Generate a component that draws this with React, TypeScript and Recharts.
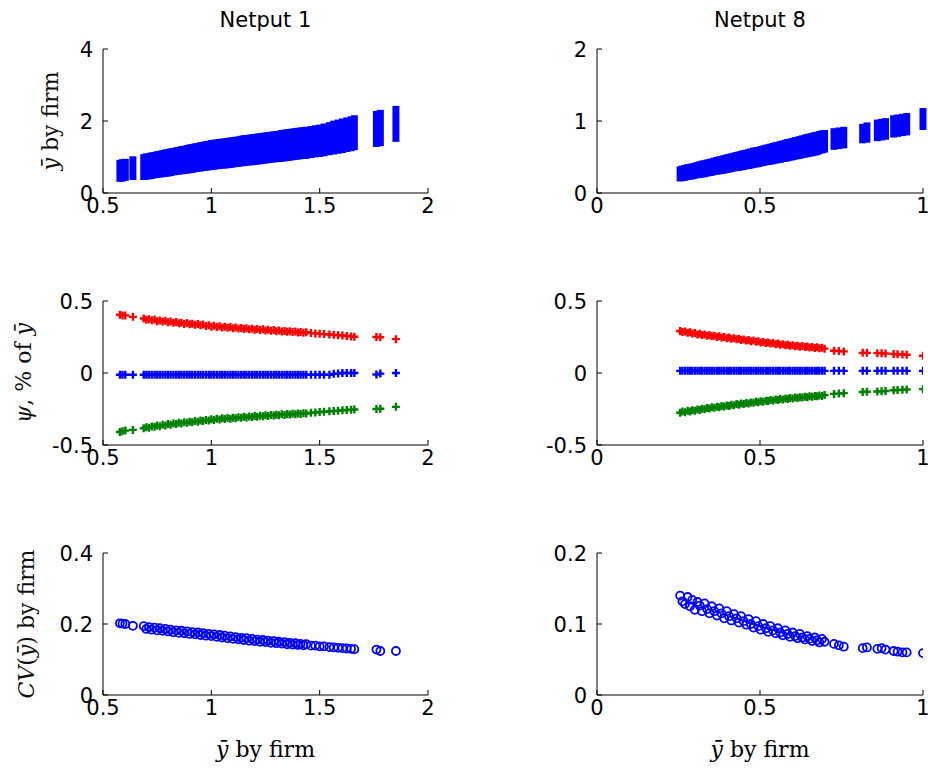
import React from 'react';
import { ScatterChart, Scatter, XAxis, YAxis, ErrorBar, Label } from 'recharts';

// ---- Netput 1 (left column): firm mean, range of draws, psi bounds, CV ----
const n1Firm = [0.578, 0.59, 0.603, 0.638,
  0.688, 0.70, 0.712, 0.725, 0.738, 0.75, 0.762, 0.775, 0.788, 0.80,
  0.812, 0.825, 0.838, 0.85, 0.862, 0.875, 0.888, 0.90, 0.912, 0.925,
  0.938, 0.95, 0.962, 0.975, 0.988, 1.0, 1.012, 1.025, 1.038, 1.05,
  1.062, 1.075, 1.088, 1.10, 1.112, 1.125, 1.138, 1.15, 1.162, 1.175,
  1.188, 1.20, 1.212, 1.225, 1.238, 1.25, 1.262, 1.275, 1.288, 1.30,
  1.312, 1.325, 1.338, 1.35, 1.362, 1.375, 1.388, 1.40, 1.412, 1.425,
  1.438,
  1.46, 1.48, 1.50, 1.52, 1.545, 1.565, 1.585, 1.605, 1.625, 1.645, 1.66,
  1.762, 1.78, 1.852];
const n1Lo = [0.31, 0.32, 0.34, 0.36,
  0.36, 0.37, 0.38, 0.39, 0.41, 0.42, 0.43, 0.44, 0.45, 0.46,
  0.47, 0.49, 0.50, 0.51, 0.52, 0.53, 0.54, 0.55, 0.56, 0.58,
  0.59, 0.60, 0.61, 0.62, 0.63, 0.64, 0.65, 0.66, 0.67, 0.68,
  0.68, 0.69, 0.70, 0.71, 0.72, 0.73, 0.74, 0.75, 0.76, 0.77,
  0.77, 0.78, 0.79, 0.80, 0.81, 0.82, 0.83, 0.84, 0.85, 0.86,
  0.86, 0.87, 0.88, 0.89, 0.90, 0.91, 0.92, 0.93, 0.94, 0.95,
  0.95,
  0.97, 0.99, 1.00, 1.02, 1.05, 1.07, 1.09, 1.11, 1.14, 1.16, 1.19,
  1.28, 1.30, 1.42];
const n1Hi = [0.92, 0.94, 0.95, 1.02,
  1.08, 1.10, 1.11, 1.13, 1.14, 1.16, 1.17, 1.19, 1.21, 1.22,
  1.24, 1.25, 1.27, 1.28, 1.30, 1.31, 1.33, 1.35, 1.36, 1.38,
  1.39, 1.41, 1.42, 1.44, 1.45, 1.47, 1.48, 1.49, 1.50, 1.51,
  1.52, 1.53, 1.54, 1.55, 1.56, 1.57, 1.59, 1.60, 1.61, 1.62,
  1.63, 1.64, 1.65, 1.66, 1.67, 1.68, 1.69, 1.70, 1.71, 1.72,
  1.73, 1.75, 1.76, 1.77, 1.78, 1.79, 1.80, 1.81, 1.82, 1.83,
  1.84,
  1.86, 1.88, 1.90, 1.93, 1.97, 2.01, 2.04, 2.07, 2.10, 2.13, 2.16,
  2.28, 2.31, 2.42];
const n1PsiUp = [0.405, 0.40, 0.40, 0.39,
  0.378, 0.37, 0.374, 0.366, 0.371, 0.36, 0.365, 0.357, 0.362, 0.352,
  0.357, 0.349, 0.354, 0.345, 0.349, 0.341, 0.347, 0.338, 0.342, 0.335,
  0.34, 0.331, 0.336, 0.327, 0.331, 0.322, 0.328, 0.32, 0.325, 0.316,
  0.322, 0.314, 0.319, 0.311, 0.316, 0.309, 0.313, 0.306, 0.311, 0.303,
  0.308, 0.301, 0.305, 0.298, 0.303, 0.296, 0.30, 0.293, 0.298, 0.29,
  0.295, 0.288, 0.292, 0.286, 0.29, 0.284, 0.288, 0.282, 0.285, 0.28,
  0.283,
  0.277, 0.275, 0.272, 0.27, 0.267, 0.265, 0.262, 0.26, 0.257, 0.254, 0.252,
  0.25, 0.248, 0.235];
const n1PsiMid = [-0.012, -0.012, -0.012, -0.012,
  -0.012, -0.012, -0.012, -0.012, -0.012, -0.012, -0.012, -0.012, -0.012, -0.012,
  -0.012, -0.012, -0.012, -0.012, -0.012, -0.012, -0.012, -0.012, -0.012, -0.012,
  -0.012, -0.012, -0.012, -0.012, -0.012, -0.012, -0.012, -0.012, -0.012, -0.012,
  -0.012, -0.012, -0.012, -0.012, -0.012, -0.012, -0.012, -0.012, -0.012, -0.012,
  -0.012, -0.012, -0.012, -0.012, -0.012, -0.012, -0.012, -0.012, -0.012, -0.012,
  -0.012, -0.012, -0.012, -0.012, -0.012, -0.012, -0.012, -0.012, -0.012, -0.012,
  -0.012,
  -0.012, -0.012, -0.012, -0.012, -0.012, -0.006, -0.004, 0, 0, 0, 0,
  -0.01, -0.004, 0];
const n1PsiDn = [-0.41, -0.405, -0.40, -0.395,
  -0.384, -0.376, -0.38, -0.371, -0.374, -0.365, -0.369, -0.36, -0.364, -0.355,
  -0.359, -0.35, -0.355, -0.346, -0.35, -0.342, -0.346, -0.338, -0.342, -0.334,
  -0.338, -0.33, -0.334, -0.326, -0.33, -0.322, -0.326, -0.318, -0.323, -0.315,
  -0.32, -0.312, -0.317, -0.31, -0.314, -0.307, -0.311, -0.304, -0.309, -0.302,
  -0.306, -0.299, -0.303, -0.297, -0.301, -0.294, -0.298, -0.292, -0.296, -0.29,
  -0.293, -0.287, -0.291, -0.285, -0.288, -0.283, -0.286, -0.281, -0.284, -0.279,
  -0.282,
  -0.276, -0.274, -0.271, -0.269, -0.266, -0.264, -0.262, -0.259, -0.257, -0.255, -0.253,
  -0.25, -0.248, -0.235];
const n1Cv = [0.202, 0.201, 0.2, 0.195,
  0.194, 0.186, 0.191, 0.184, 0.19, 0.182, 0.188, 0.181, 0.186, 0.179,
  0.184, 0.177, 0.182, 0.175, 0.181, 0.174, 0.179, 0.172, 0.177, 0.171,
  0.176, 0.169, 0.174, 0.167, 0.172, 0.166, 0.171, 0.164, 0.169, 0.162,
  0.167, 0.16, 0.165, 0.158, 0.163, 0.157, 0.161, 0.155, 0.16, 0.153,
  0.158, 0.152, 0.156, 0.15, 0.155, 0.149, 0.153, 0.147, 0.152, 0.146,
  0.15, 0.145, 0.149, 0.143, 0.147, 0.142, 0.146, 0.141, 0.144, 0.14,
  0.143,
  0.139, 0.139, 0.137, 0.137, 0.135, 0.134, 0.133, 0.132, 0.131, 0.13, 0.129,
  0.128, 0.124, 0.124];

// ---- Netput 8 (right column) ----
const n8Firm = [
  0.255, 0.262, 0.27, 0.278, 0.285, 0.292, 0.30, 0.308, 0.315, 0.322,
  0.33, 0.338, 0.345, 0.352, 0.36, 0.368, 0.375, 0.382, 0.39, 0.398,
  0.405, 0.412, 0.42, 0.428, 0.435, 0.442, 0.45, 0.458, 0.465, 0.472,
  0.48, 0.488, 0.495, 0.502, 0.51, 0.518, 0.525, 0.532, 0.54, 0.548,
  0.555, 0.562, 0.57, 0.578, 0.585, 0.592, 0.60, 0.608, 0.615, 0.622,
  0.63, 0.638, 0.645, 0.652, 0.66, 0.668, 0.675, 0.682, 0.69, 0.698,
  0.727, 0.742, 0.757, 0.815, 0.828, 0.86, 0.873, 0.885, 0.91, 0.922, 0.937, 0.95, 1.0];
const n8Lo = [
  0.16, 0.165, 0.17, 0.18, 0.185, 0.19, 0.20, 0.205, 0.21, 0.215,
  0.22, 0.23, 0.235, 0.24, 0.25, 0.255, 0.26, 0.265, 0.27, 0.28,
  0.285, 0.29, 0.30, 0.305, 0.31, 0.315, 0.32, 0.33, 0.335, 0.34,
  0.35, 0.355, 0.36, 0.37, 0.375, 0.385, 0.39, 0.395, 0.40, 0.41,
  0.415, 0.42, 0.43, 0.435, 0.44, 0.45, 0.455, 0.465, 0.47, 0.475,
  0.485, 0.49, 0.50, 0.505, 0.51, 0.52, 0.525, 0.54, 0.55, 0.56,
  0.60, 0.61, 0.62, 0.69, 0.70, 0.72, 0.73, 0.74, 0.77, 0.78, 0.79, 0.80, 0.875];
const n8Hi = [
  0.37, 0.38, 0.39, 0.40, 0.405, 0.41, 0.42, 0.43, 0.44, 0.45,
  0.455, 0.465, 0.47, 0.48, 0.49, 0.50, 0.51, 0.515, 0.525, 0.535,
  0.54, 0.55, 0.56, 0.57, 0.575, 0.585, 0.595, 0.60, 0.61, 0.62,
  0.63, 0.635, 0.64, 0.65, 0.66, 0.67, 0.675, 0.685, 0.695, 0.705,
  0.71, 0.72, 0.73, 0.74, 0.75, 0.755, 0.765, 0.775, 0.78, 0.79,
  0.80, 0.81, 0.82, 0.825, 0.835, 0.845, 0.85, 0.86, 0.87, 0.875,
  0.90, 0.91, 0.92, 0.96, 0.98, 1.02, 1.03, 1.04, 1.08, 1.09, 1.10, 1.11, 1.18];
const n8PsiUp = [
  0.292, 0.284, 0.288, 0.279, 0.283, 0.274, 0.278, 0.268, 0.272, 0.264,
  0.268, 0.259, 0.264, 0.255, 0.259, 0.25, 0.255, 0.247, 0.25, 0.242,
  0.246, 0.238, 0.242, 0.234, 0.237, 0.229, 0.233, 0.225, 0.229, 0.221,
  0.225, 0.217, 0.22, 0.212, 0.216, 0.208, 0.212, 0.204, 0.208, 0.2,
  0.204, 0.197, 0.2, 0.193, 0.197, 0.19, 0.193, 0.186, 0.19, 0.183,
  0.187, 0.18, 0.184, 0.177, 0.181, 0.174, 0.178, 0.172, 0.175, 0.169,
  0.155, 0.152, 0.15, 0.14, 0.14, 0.138, 0.137, 0.135, 0.132, 0.13, 0.128, 0.127, 0.12];
const n8PsiMid = [
  0.015, 0.015, 0.015, 0.015, 0.015, 0.015, 0.015, 0.015, 0.015, 0.015,
  0.015, 0.015, 0.015, 0.015, 0.015, 0.015, 0.015, 0.015, 0.015, 0.015,
  0.015, 0.015, 0.015, 0.015, 0.015, 0.015, 0.015, 0.015, 0.015, 0.015,
  0.015, 0.015, 0.015, 0.015, 0.015, 0.015, 0.015, 0.015, 0.015, 0.015,
  0.015, 0.015, 0.015, 0.015, 0.015, 0.015, 0.015, 0.015, 0.015, 0.015,
  0.015, 0.015, 0.015, 0.015, 0.015, 0.015, 0.015, 0.015, 0.015, 0.015,
  0.015, 0.015, 0.015, 0.015, 0.015, 0.015, 0.015, 0.015, 0.015, 0.015, 0.015, 0.015, 0.015];
const n8PsiDn = [
  -0.276, -0.268, -0.272, -0.263, -0.267, -0.258, -0.262, -0.253, -0.257, -0.248,
  -0.252, -0.243, -0.247, -0.238, -0.242, -0.234, -0.238, -0.229, -0.233, -0.225,
  -0.229, -0.221, -0.224, -0.216, -0.22, -0.212, -0.216, -0.208, -0.211, -0.204,
  -0.207, -0.2, -0.203, -0.196, -0.199, -0.192, -0.195, -0.188, -0.191, -0.184,
  -0.187, -0.181, -0.184, -0.177, -0.18, -0.174, -0.177, -0.171, -0.174, -0.168,
  -0.171, -0.165, -0.168, -0.162, -0.165, -0.159, -0.162, -0.156, -0.159, -0.153,
  -0.145, -0.143, -0.14, -0.132, -0.13, -0.128, -0.127, -0.125, -0.12, -0.118, -0.117, -0.115, -0.112];
const n8Cv = [
  0.14, 0.132, 0.128, 0.138, 0.125, 0.134, 0.12, 0.131, 0.126, 0.118,
  0.129, 0.121, 0.115, 0.125, 0.118, 0.112, 0.122, 0.115, 0.108, 0.118,
  0.111, 0.105, 0.114, 0.108, 0.102, 0.111, 0.104, 0.099, 0.107, 0.1,
  0.095, 0.104, 0.097, 0.092, 0.1, 0.094, 0.089, 0.097, 0.091, 0.087,
  0.094, 0.088, 0.084, 0.091, 0.086, 0.082, 0.088, 0.083, 0.08, 0.086,
  0.081, 0.078, 0.083, 0.079, 0.076, 0.081, 0.077, 0.074, 0.079, 0.075,
  0.072, 0.07, 0.068, 0.066, 0.067, 0.065, 0.066, 0.064, 0.062, 0.061, 0.06, 0.06, 0.059];

// ---- axis ticks ----
const n1XTicks = [0.5, 1, 1.5, 2];
const n8XTicks = [0, 0.5, 1];
const n1BandTicks = [0, 2, 4];
const n8BandTicks = [0, 1, 2];
const psiTicks = [-0.5, 0, 0.5];
const n1CvTicks = [0, 0.2, 0.4];
const n8CvTicks = [0, 0.1, 0.2];

const SANS = '"DejaVu Sans", "Liberation Sans", Arial, sans-serif';
const SERIF = '"DejaVu Serif", "Liberation Serif", serif';
const BLUE = '#0000ff';
const RED = '#ff0000';
const GREEN = '#008000';

const band = (xs: number[], lo: number[], hi: number[]) =>
  xs.map((x, i) => ({ x, y: lo[i], err: [0, hi[i] - lo[i]] }));
const pts = (xs: number[], ys: number[]) => xs.map((x, i) => ({ x, y: ys[i] }));

const XTick = (props: any) => {
  const { x, y, payload } = props;
  const ay = y - 6;
  return (
    <g>
      <line x1={x} x2={x} y1={ay} y2={ay - 5} stroke="#000" />
      <text x={x} y={ay + 20} textAnchor="middle" fontFamily={SANS} fontSize={21} fill="#000">
        {String(payload.value)}
      </text>
    </g>
  );
};

const YTick = (props: any) => {
  const { x, y, payload } = props;
  const ax = x + 6;
  return (
    <g>
      <line x1={ax} x2={ax + 5} y1={y} y2={y} stroke="#000" />
      <text x={ax - 10} y={y + 7.5} textAnchor="end" fontFamily={SANS} fontSize={21} fill="#000">
        {String(payload.value)}
      </text>
    </g>
  );
};

const YLab = (props: any) => {
  const { viewBox, cx, parts } = props;
  const cy = viewBox.y + viewBox.height / 2;
  return (
    <text transform={`rotate(-90 ${cx} ${cy})`} x={cx} y={cy} textAnchor="middle" fontFamily={SERIF} fontSize={22} fill="#111">
      {parts}
    </text>
  );
};

const XLab = (props: any) => {
  const { viewBox, ty, parts, sans, size } = props;
  return (
    <text x={viewBox.x + viewBox.width / 2} y={ty} textAnchor="middle" fontFamily={sans ? SANS : SERIF} fontSize={size} fill="#000">
      {parts}
    </text>
  );
};

// MATLAB-like '+' and 'o' markers
const Plus = ({ cx, cy, color }: any) => (
  <path d={`M${cx - 4},${cy}H${cx + 4}M${cx},${cy - 4}V${cy + 4}`} stroke={color} strokeWidth={2.4} fill="none" />
);
const Ring = ({ cx, cy }: any) => <circle cx={cx} cy={cy} r={4} stroke={BLUE} strokeWidth={1.8} fill="none" />;

const bandLabel = [<tspan key="a" fontStyle="italic">ȳ</tspan>, <tspan key="b"> by firm</tspan>];
const psiLabel = [<tspan key="a" fontStyle="italic">ψ</tspan>, <tspan key="b">, % of </tspan>, <tspan key="c" fontStyle="italic">ȳ</tspan>];
const cvLabel = [<tspan key="a" fontStyle="italic">CV</tspan>, <tspan key="b">(</tspan>, <tspan key="c" fontStyle="italic">ȳ</tspan>, <tspan key="d">) by firm</tspan>];

type PanelProps = {
  left: number;
  top: number;
  yAxisW: number;
  plotW: number;
  marginTop: number;
  plotH: number;
  xAxisH: number;
  xDomain: [number, number];
  xTicks: number[];
  yDomain: [number, number];
  yTicks: number[];
  yLabel?: React.ReactNode;
  yLabelX?: number;
  title?: string;
  xLabel?: boolean;
  children: React.ReactNode;
};

function Panel(p: PanelProps) {
  const width = p.yAxisW + p.plotW + 30;
  const height = p.marginTop + p.plotH + p.xAxisH;
  return (
    <div style={{ position: 'absolute', left: p.left, top: p.top, width, height }}>
      <ScatterChart width={width} height={height} margin={{ top: p.marginTop, right: 30, bottom: 0, left: 0 }}>
        <XAxis
          type="number"
          dataKey="x"
          domain={p.xDomain}
          ticks={p.xTicks}
          interval={0}
          allowDataOverflow
          height={p.xAxisH}
          tickSize={6}
          tickMargin={0}
          tickLine={false}
          tick={<XTick />}
          axisLine={{ stroke: '#000' }}
        >
          {p.title ? (
            <Label content={<XLab ty={27} parts={p.title} sans size={21} />} />
          ) : p.xLabel ? (
            <Label content={<XLab ty={p.marginTop + p.plotH + 62} parts={bandLabel} size={22} />} />
          ) : null}
        </XAxis>
        <YAxis
          type="number"
          dataKey="y"
          domain={p.yDomain}
          ticks={p.yTicks}
          interval={0}
          allowDataOverflow
          width={p.yAxisW}
          tickSize={6}
          tickMargin={0}
          tickLine={false}
          tick={<YTick />}
          axisLine={{ stroke: '#000' }}
        >
          {p.yLabel ? <Label content={<YLab cx={p.yLabelX} parts={p.yLabel} />} /> : null}
        </YAxis>
        {p.children}
      </ScatterChart>
    </div>
  );
}

const BandSeries = (xs: number[], lo: number[], hi: number[]) => (
  <Scatter data={band(xs, lo, hi)} isAnimationActive={false} shape={() => <g />}>
    <ErrorBar dataKey="err" direction="y" width={0} stroke={BLUE} strokeWidth={7} isAnimationActive={false} />
  </Scatter>
);

export default function App() {
  const L = { left: 0, yAxisW: 103, plotW: 325 };
  const R = { left: 470, yAxisW: 127, plotW: 326 };
  const row1 = { top: 0, marginTop: 49, plotH: 144, xAxisH: 45 };
  const row2 = { top: 250, marginTop: 51, plotH: 144, xAxisH: 45 };
  const row3 = { top: 500, marginTop: 53, plotH: 142, xAxisH: 75 };

  return (
    <div style={{ position: 'absolute', left: 0, top: 0, width: 928, height: 770, overflow: 'hidden', background: '#fff' }}>
      <Panel {...L} {...row1} xDomain={[0.5, 2]} xTicks={n1XTicks} yDomain={[0, 4]} yTicks={n1BandTicks} yLabel={bandLabel} yLabelX={58} title="Netput 1">
        {BandSeries(n1Firm, n1Lo, n1Hi)}
      </Panel>
      <Panel {...R} {...row1} xDomain={[0, 1]} xTicks={n8XTicks} yDomain={[0, 2]} yTicks={n8BandTicks} title="Netput 8">
        {BandSeries(n8Firm, n8Lo, n8Hi)}
      </Panel>

      <Panel {...L} {...row2} xDomain={[0.5, 2]} xTicks={n1XTicks} yDomain={[-0.5, 0.5]} yTicks={psiTicks} yLabel={psiLabel} yLabelX={31}>
        <Scatter data={pts(n1Firm, n1PsiUp)} isAnimationActive={false} shape={(s: any) => <Plus {...s} color={RED} />} />
        <Scatter data={pts(n1Firm, n1PsiMid)} isAnimationActive={false} shape={(s: any) => <Plus {...s} color={BLUE} />} />
        <Scatter data={pts(n1Firm, n1PsiDn)} isAnimationActive={false} shape={(s: any) => <Plus {...s} color={GREEN} />} />
      </Panel>
      <Panel {...R} {...row2} xDomain={[0, 1]} xTicks={n8XTicks} yDomain={[-0.5, 0.5]} yTicks={psiTicks}>
        <Scatter data={pts(n8Firm, n8PsiUp)} isAnimationActive={false} shape={(s: any) => <Plus {...s} color={RED} />} />
        <Scatter data={pts(n8Firm, n8PsiMid)} isAnimationActive={false} shape={(s: any) => <Plus {...s} color={BLUE} />} />
        <Scatter data={pts(n8Firm, n8PsiDn)} isAnimationActive={false} shape={(s: any) => <Plus {...s} color={GREEN} />} />
      </Panel>

      <Panel {...L} {...row3} xDomain={[0.5, 2]} xTicks={n1XTicks} yDomain={[0, 0.4]} yTicks={n1CvTicks} yLabel={cvLabel} yLabelX={34} xLabel>
        <Scatter data={pts(n1Firm, n1Cv)} isAnimationActive={false} shape={(s: any) => <Ring {...s} />} />
      </Panel>
      <Panel {...R} {...row3} xDomain={[0, 1]} xTicks={n8XTicks} yDomain={[0, 0.2]} yTicks={n8CvTicks} xLabel>
        <Scatter data={pts(n8Firm, n8Cv)} isAnimationActive={false} shape={(s: any) => <Ring {...s} />} />
      </Panel>
    </div>
  );
}
